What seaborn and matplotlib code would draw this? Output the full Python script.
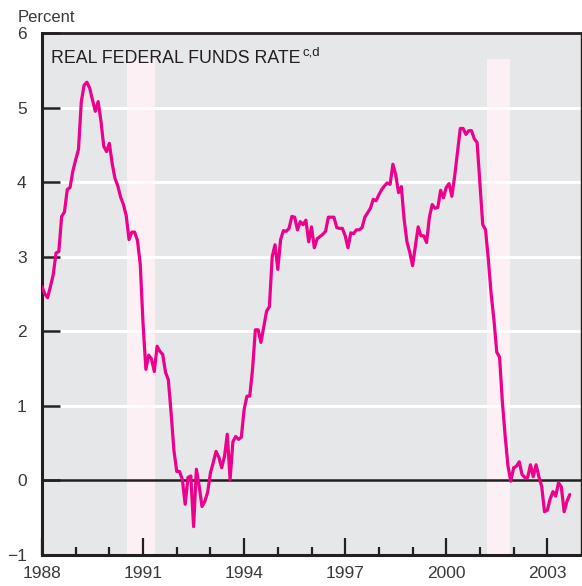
import numpy as np
import pandas as pd
import seaborn as sns
import matplotlib.pyplot as plt

# monthly real federal funds rate, Jan 1988 - Sep 2003 (percent)
rate = [
    2.60, 2.50, 2.45, 2.60, 2.76, 3.05, 3.07, 3.54, 3.60, 3.90, 3.93, 4.15,  # 1988
    4.30, 4.44, 5.08, 5.30, 5.34, 5.26, 5.10, 4.95, 5.08, 4.82, 4.48, 4.41,  # 1989
    4.52, 4.25, 4.05, 3.95, 3.80, 3.70, 3.55, 3.23, 3.33, 3.33, 3.22, 2.90,  # 1990
    2.10, 1.49, 1.68, 1.63, 1.46, 1.80, 1.73, 1.69, 1.45, 1.35, 0.90, 0.40,  # 1991
    0.12, 0.12, 0.01, -0.32, 0.04, 0.06, -0.62, 0.15, -0.08, -0.35, -0.28, -0.16,  # 1992
    0.10, 0.24, 0.39, 0.31, 0.17, 0.32, 0.62, 0.01, 0.52, 0.59, 0.55, 0.58,  # 1993
    0.95, 1.13, 1.13, 1.49, 2.02, 2.02, 1.85, 2.06, 2.27, 2.33, 3.00, 3.16,  # 1994
    2.83, 3.23, 3.35, 3.34, 3.38, 3.54, 3.53, 3.36, 3.47, 3.43, 3.49, 3.20,  # 1995
    3.40, 3.12, 3.24, 3.27, 3.30, 3.34, 3.53, 3.53, 3.53, 3.39, 3.38, 3.38,  # 1996
    3.28, 3.12, 3.32, 3.31, 3.36, 3.36, 3.39, 3.53, 3.59, 3.65, 3.77, 3.75,  # 1997
    3.83, 3.90, 3.95, 3.99, 3.97, 4.24, 4.10, 3.86, 3.94, 3.50, 3.20, 3.06,  # 1998
    2.88, 3.14, 3.40, 3.28, 3.28, 3.19, 3.53, 3.70, 3.65, 3.66, 3.89, 3.79,  # 1999
    3.93, 3.98, 3.81, 4.08, 4.40, 4.72, 4.72, 4.64, 4.69, 4.69, 4.58, 4.53,  # 2000
    3.99, 3.43, 3.36, 2.96, 2.50, 2.15, 1.72, 1.65, 1.05, 0.59, 0.19, -0.01,  # 2001
    0.17, 0.19, 0.25, 0.08, 0.04, 0.04, 0.21, 0.05, 0.21, 0.05, -0.08, -0.42,  # 2002
    -0.40, -0.25, -0.15, -0.21, -0.03, -0.09, -0.42, -0.28, -0.19,  # 2003
]
start_year = 1988
recession_start = [1990.52, 2001.21]
recession_end = [1991.35, 2001.89]
year_labels = [1988, 1991, 1994, 1997, 2000, 2003]
y_ticks = [-1, 0, 1, 2, 3, 4, 5, 6]
y_labels = ['\u22121', '0', '1', '2', '3', '4', '5', '6']

df = pd.DataFrame({'year': start_year + np.arange(len(rate)) / 12.0, 'rate': rate})

dark = '#231f20'
grey_text = '#3a3a3a'
sns.set_style('white', {'axes.facecolor': '#e6e7e9'})
plt.rcParams['font.family'] = ['Liberation Sans', 'DejaVu Sans']

fig = plt.figure(figsize=(5.82, 5.86), dpi=100)
ax = fig.add_axes([42 / 582, 31 / 586, 539 / 582, 522 / 586])
ax.set_axisbelow(False)

# recession bars
for s, e in zip(recession_start, recession_end):
    ax.axvspan(s, e, ymin=0, ymax=(5.65 + 1) / 7, color='#fcf0f4', lw=0, zorder=1)

for v in [1, 2, 3, 4, 5]:
    ax.axhline(v, color='white', lw=2.2, zorder=1.5)
ax.axhline(0, color=dark, lw=1.8, zorder=2)

sns.lineplot(data=df, x='year', y='rate', ax=ax, color='#ec008c', lw=2.3, zorder=3)

ax.set_xlim(1988, 2004)
ax.set_ylim(-1, 6)
ax.set_xlabel('')
ax.set_ylabel('')

ax.set_yticks(y_ticks)
ax.set_yticklabels(y_labels, fontsize=12.5, color=grey_text)
ax.set_xticks(year_labels)
ax.set_xticklabels([str(y) for y in year_labels], fontsize=12.5, color=grey_text)
ax.set_xticks(range(1989, 2004), minor=True)

ax.tick_params(axis='y', direction='in', length=13, width=1.8, color=dark, pad=11, left=True)
ax.tick_params(axis='x', which='major', direction='in', length=12, width=1.6, color=dark, pad=8, bottom=True)
ax.tick_params(axis='x', which='minor', direction='in', length=6, width=1.6, color=dark, bottom=True)

for side, w in [('left', 2.2), ('bottom', 2.2), ('top', 2.0), ('right', 1.0)]:
    ax.spines[side].set_visible(True)
    ax.spines[side].set_color(dark)
    ax.spines[side].set_linewidth(w)

t = ax.text(0.017, 0.968, 'REAL FEDERAL FUNDS RATE', transform=ax.transAxes,
            fontsize=12.8, color=dark, va='top', ha='left')
ax.annotate('c,d', xy=(1, 1), xycoords=t, xytext=(1.5, 2), textcoords='offset points',
            fontsize=9.5, color=dark, va='top', ha='left')

fig.text(18 / 582, 1 - 18 / 586, 'Percent', fontsize=12, color=grey_text, va='center', ha='left')

fig.savefig('out.png', dpi=100)
